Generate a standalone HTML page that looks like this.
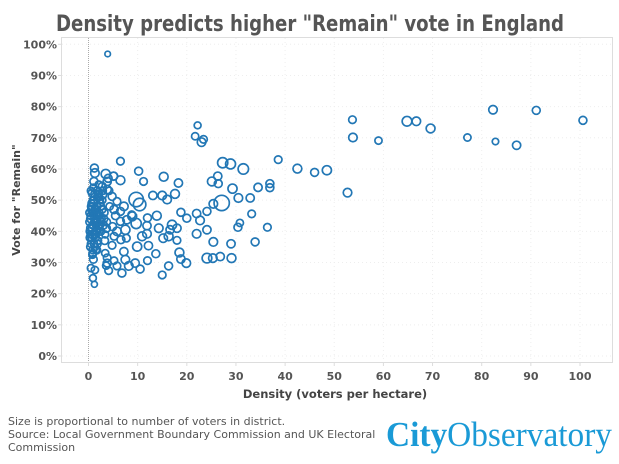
<!DOCTYPE html>
<html><head><meta charset="utf-8"><style>
body{margin:0;background:#fff;}
svg{display:block;font-family:"DejaVu Sans","Liberation Sans",sans-serif;}
</style></head><body>
<svg id="chart" width="619" height="464" viewBox="0 0 619 464">
<text x="310" y="31" text-anchor="middle" font-size="22" font-weight="bold" fill="#555" textLength="508" lengthAdjust="spacingAndGlyphs">Density predicts higher "Remain" vote in England</text>
<g id="grid"></g>
<rect x="61.5" y="37.5" width="551" height="325" fill="none" stroke="#ddd" stroke-width="1"/>
<g id="yaxis"></g>
<g id="xaxis"></g>
<g id="points"></g>
<text transform="translate(20,200) rotate(-90)" text-anchor="middle" font-size="11" font-weight="bold" fill="#444">Vote for "Remain"</text>
<text x="335" y="398" text-anchor="middle" font-size="11.5" font-weight="bold" fill="#444">Density (voters per hectare)</text>
<g font-size="11" fill="#555">
<text x="8" y="425">Size is proportional to number of voters in district.</text>
<text x="8" y="438">Source: Local Government Boundary Commission and UK Electoral</text>
<text x="8" y="451">Commission</text>
</g>
<text x="386" y="446" font-family="'Liberation Serif',serif" font-size="35" fill="#1a9ad6" textLength="226" lengthAdjust="spacingAndGlyphs"><tspan font-weight="bold">City</tspan>Observatory</text>
</svg>
<script>
const xTicks=[0,10,20,30,40,50,60,70,80,90,100];
const yTicks=[0,10,20,30,40,50,60,70,80,90,100];
const density=[3.9,22.2,21.7,23,23.4,6.5,1.2,10.2,27.3,28.9,31.5,38.6,42.5,46,48.5,52.7,53.7,53.8,59,64.8,66.7,69.6,77.1,82.3,82.8,87.1,91.1,100.6,
13.1,15.3,15,17.6,16,18.3,11.2,9.7,10.4,6.5,5.1,25.1,26.3,26.4,29.3,30.5,32.9,34.5,36.9,36.9,27.1,25.4,24.1,22,22.7,22,24.1,25.4,29,30.4,30.8,33.2,36.4,33.9,29.1,26.8,25.3,24.1,
13.9,14.3,17,18,18.8,20,16.6,15.2,16.3,18,18.5,18.8,19.9,16.3,15,12.2,12,10.5,13.7,10.9,9.9,11.9,11.9,12,9.7,8.9,9.5,8.2,6.8,5.8,5.2,3.8,3.6,4.1,7.5,7.2,6.6,7.7,7.5,5.8,6.5,7.8,8.8,6.5,7.2,5.8,5.2,5.5,4.9,5.2,4.8,3.4,3.8,
0.5,0.9,1.2,1.3,1,1.7,0.8,1.3,3.5,3.8,5.1,2.8,3.8,1.8,0.8,2.8,4.8,
0.2,0.4,0.6,0.8,1.0,1.2,1.4,1.6,1.8,2.0,2.2,2.4,2.6,0.3,0.5,0.7,0.9,1.1,1.3,1.5,1.7,1.9,2.1,2.3,2.5,2.7,0.2,0.4,0.6,0.8,1.0,1.2,1.4,1.6,1.8,2.0,2.2,2.4,0.3,0.5,0.7,0.9,1.1,1.3,1.5,1.7,1.9,2.1,2.3,0.4,0.6,0.8,1.0,1.2,1.4,1.6,1.8,2.0,0.5,0.9,1.3,1.7,2.1,2.5,3.0,3.2,3.4,2.9,3.1,3.3,2.8,3.6,4.0,4.3,3.7,4.2,0.6,1.1,1.5,2.0,0.4,1.0,1.6,2.2,2.8];
const remain=[96.9,74,70.5,68.6,69.5,62.5,60.3,59.3,62,61.6,60,63,60.1,58.9,59.6,52.4,75.8,70.1,69.1,75.3,75.3,73,70.1,79,68.8,67.6,78.8,75.6,
51.5,57.5,51.5,52,50.2,55.5,56,50.2,48.6,56.4,57.7,56,57.7,55.3,53.7,50.7,50.7,54.1,55.3,54,49.1,48.8,46.4,45.7,43.5,39.2,40.5,36.6,36,41.3,42.7,45.6,41.3,36.6,31.4,31.9,31.4,31.4,
45,41,42.1,41,46.1,44.2,40.5,37.8,38.4,37.1,33.2,31.1,29.8,28.9,26,35.4,30.6,27.9,32.8,38.4,35.1,39.2,41.8,44.3,42.5,44.8,29.8,28.9,26.6,28.9,30.6,29.8,29,27.4,30.9,33.5,37.3,37.8,40.5,40,43.2,43.7,45.3,46.4,48,49.6,47,45,41.5,38.4,35.5,33,31.5,
28.2,25,23,27.6,31,34,32.5,58.7,58.4,56,57.7,54.4,53.4,52.9,52.3,51.7,51.2,
46,44,48,42,50,45,39,47,43,51,41,49,44,40,53,38,46,36,52,42,48,37,45,50,40,47,43,35,49,41,54,39,47,44,36,51,46,42,38,45,48,34,50,43,40,46,37,52,44,41,47,39,49,43,38,45,51,42,36,33,35,40,55,48,42,46,39,53,44,37,50,41,57,48,43,53,47,56,34,45,39,42,47,43,38,49,44];
const voters=[60,90,100,140,110,110,120,120,200,190,210,110,150,120,160,140,110,140,100,180,140,150,100,140,80,130,120,120,
130,150,140,150,140,130,110,400,300,150,120,150,130,120,160,140,130,130,120,120,450,140,120,130,140,140,130,140,130,120,100,110,110,120,150,130,140,180,
150,140,160,130,120,120,130,140,150,110,150,130,140,120,110,130,110,120,120,150,160,140,130,120,200,150,130,140,120,110,100,120,100,110,140,130,120,110,160,140,120,130,110,120,140,110,130,120,120,110,110,100,110,
100,90,70,100,110,110,100,140,160,130,130,120,130,140,130,140,120,
100,110,120,100,130,110,120,100,120,110,90,100,120,110,100,130,110,100,120,90,110,100,130,100,110,120,100,110,90,120,100,110,130,100,110,120,100,90,110,120,100,110,100,120,110,130,100,110,90,110,100,120,110,100,120,110,100,130,100,110,100,120,100,110,130,110,90,100,120,110,100,130,120,100,110,100,110,120,100,110,90,120,100];
const xs=v=>88.5+v*4.915;
const ys=p=>356-p*3.117;
const rs=n=>Math.sqrt(n)*0.36;
const NS='http://www.w3.org/2000/svg';
function mk(tag,attrs,parent){const e=document.createElementNS(NS,tag);for(const k in attrs)e.setAttribute(k,attrs[k]);parent.appendChild(e);return e;}
const grid=document.getElementById('grid'),yax=document.getElementById('yaxis'),xax=document.getElementById('xaxis'),pts=document.getElementById('points');
yTicks.forEach(t=>{
  const g=mk('line',{x1:62,x2:612,y1:ys(t),y2:ys(t),stroke:'#eee','stroke-dasharray':'1,3'},grid);
  
  
  const tk=mk('line',{x1:58,x2:62,y1:ys(t),y2:ys(t),stroke:'#ddd'},yax);
  
  
  const l=mk('text',{x:57,y:ys(t)+4,'text-anchor':'end','font-size':11,'font-weight':'bold',fill:'#555'},yax);
  l.textContent=t+'%';
  
  
});
xTicks.forEach(t=>{
  const g=mk('line',{x1:xs(t),x2:xs(t),y1:38,y2:362,stroke:t===0?'#aaa':'#eee','stroke-dasharray':t===0?'1,1':'1,3'},grid);
  
  
  const tk=mk('line',{x1:xs(t),x2:xs(t),y1:362,y2:366,stroke:'#ddd'},xax);
  
  
  const l=mk('text',{x:xs(t),y:380,'text-anchor':'middle','font-size':11,'font-weight':'bold',fill:'#555'},xax);
  l.textContent=t;
  
  
});
density.forEach((d,i)=>{
  const c=mk('circle',{cx:xs(d),cy:ys(remain[i]),r:rs(voters[i]),fill:'none',stroke:'#2277b5','stroke-width':1.7},pts);
  
  
});
</script>
</body></html>
